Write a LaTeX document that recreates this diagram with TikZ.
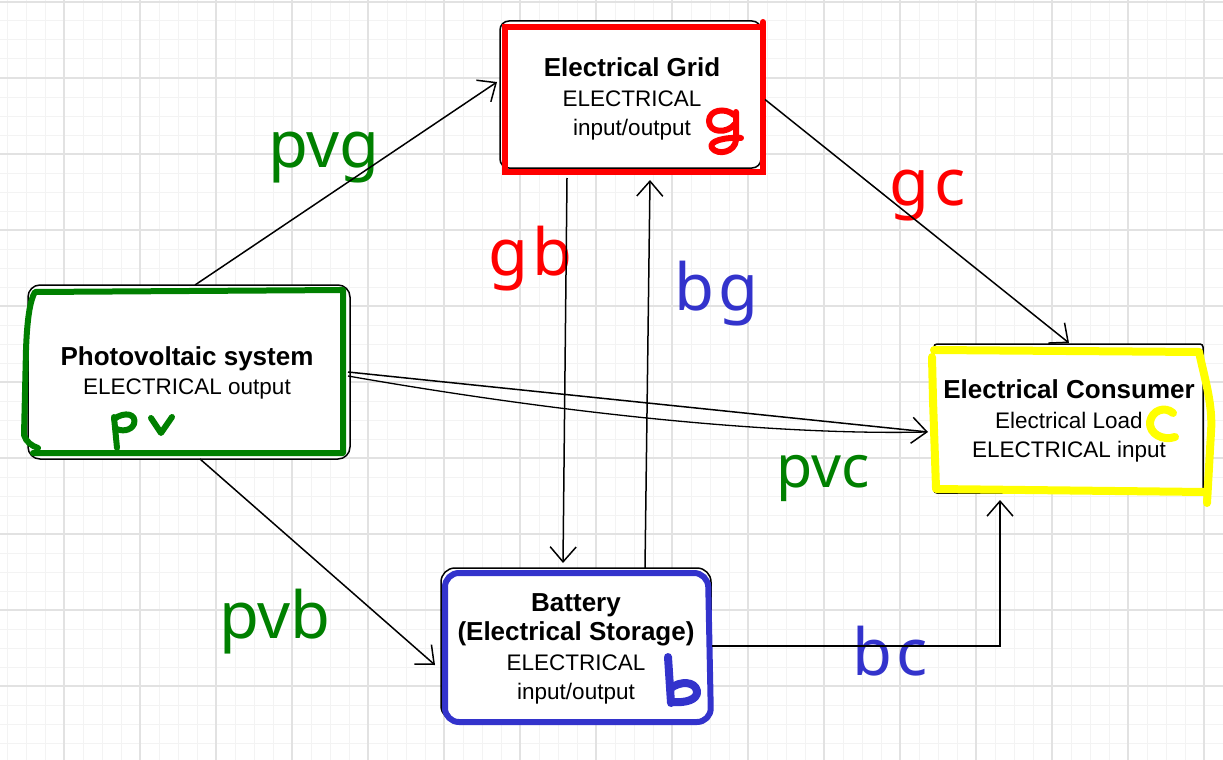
\documentclass[tikz,border=0pt]{standalone}
\usepackage{fontspec}
\setmainfont{Liberation Sans}
\newfontfamily\labelfont{Noto Sans}
\usetikzlibrary{arrows.meta}
\definecolor{gridmajor}{HTML}{E2E2E2}
\definecolor{gridminor}{HTML}{F3F3F3}
\definecolor{pvgreen}{HTML}{008000}
\definecolor{gred}{HTML}{FF0000}
\definecolor{bblue}{HTML}{3333CC}
\definecolor{cyellow}{HTML}{FFFF00}
\begin{document}
\begin{tikzpicture}[x=1pt,y=-1pt,
  minorline/.style={draw=gridminor,line width=1pt},
  majorline/.style={draw=gridmajor,line width=1.3pt},
  anchorbox/.style={inner sep=0pt,outer sep=0pt},
  boxtext/.style={inner sep=0pt,align=center,font=\fontsize{22.5}{29.5}\selectfont},
  sketchborder/.style={draw=black,fill=white,line width=1.5pt},
  marker/.style={line width=6pt,line cap=round,line join=round},
  fatmarker/.style={line width=8pt,line cap=round,line join=round},
  conn/.style={draw=black,line width=1.5pt,-{Straight Barb[length=15pt,width=26pt,line width=1.5pt]}},
  plainconn/.style={draw=black,line width=1.3pt},
  lbl/.style={anchor=base west,inner sep=0pt,font=\labelfont\fontsize{65}{65}\selectfont}
]
\useasboundingbox (0,0) rectangle (1223,760);
\fill[white] (0,0) rectangle (1223,760);
% grid
\foreach \i in {0,...,64} \draw[minorline] ({7+19*\i},0) -- ({7+19*\i},760);
\foreach \j in {0,...,40} \draw[minorline] (0,{2+19*\j}) -- (1223,{2+19*\j});
\foreach \i in {0,...,16} \draw[majorline] ({-12+76*\i},0) -- ({-12+76*\i},760);
\foreach \j in {0,...,10} \draw[majorline] (0,{2+76*\j}) -- (1223,{2+76*\j});

% sketch borders (white boxes)
\draw[sketchborder,rounded corners=9pt] (500,21) rectangle (761,168);
\draw[sketchborder,rounded corners=12pt] (28,285) rectangle (350,459);
\draw[sketchborder,rounded corners=3pt] (934,344) rectangle (1203,493);
\draw[sketchborder,rounded corners=14pt] (441,568) rectangle (711,720);

% anchor nodes
\node[anchorbox,minimum width=258pt,minimum height=145pt] (grid) at (634,99.5) {};
\node[anchorbox,minimum width=318pt,minimum height=166pt] (pv) at (187,373) {};
\node[anchorbox,minimum width=272pt,minimum height=150pt] (cons) at (1069,421) {};
\node[anchorbox,minimum width=266pt,minimum height=152pt] (bat) at (577,647) {};

% coloured markers
\draw[marker,gred,line join=miter,line cap=butt] (505,27) -- (763,27) -- (763,172) -- (505,172) -- cycle;
\draw[marker,gred] (763,22) -- (763,30);
\draw[marker,pvgreen] (33,453) -- (343,453) -- (343,290) -- (35,292)
  .. controls (30,300) and (27,320) .. (26,350) -- (24,435)
  .. controls (26,442) and (32,446) .. (38,448);
\draw[fatmarker,cyellow] (934,350) -- (1199,352);
\draw[fatmarker,cyellow] (1199,352) .. controls (1205,380) and (1213,405) .. (1211,432) -- (1207,503);
\draw[fatmarker,cyellow] (936,489) -- (1205,492);
\draw[fatmarker,cyellow] (932,357) -- (933,400) -- (936,488);
\draw[marker,bblue,rounded corners=14pt] (445,573) -- (708,573) -- (711,722) -- (445,722) -- cycle;

% box texts
\node[boxtext] (gridtext) at (632,99) {{\bfseries\fontsize{26}{29.5}\selectfont Electrical Grid}\\ELECTRICAL\\input/output};
\node[boxtext] (pvtext) at (187,373) {{\bfseries\fontsize{26}{29.5}\selectfont Photovoltaic system}\\ELECTRICAL output};
\node[boxtext] (constext) at (1069,421) {{\bfseries\fontsize{26}{29.5}\selectfont Electrical Consumer}\\Electrical Load\\ELECTRICAL input};
\node[boxtext] (battext) at (576,649) {{\bfseries\fontsize{26}{30.5}\selectfont Battery}\\{\bfseries\fontsize{26}{30.5}\selectfont (Electrical Storage)}\\ELECTRICAL\\input/output};

% handwritten letters
\draw[marker,gred] (734,115) .. controls (725,107) and (709,110) .. (709,121) .. controls (709,133) and (727,134) .. (735,124);
\draw[marker,gred] (736,112) -- (736,140) .. controls (735,152) and (718,156) .. (712,148) .. controls (708,141) and (725,137) .. (741,138);
\draw[marker,pvgreen] (114,417) -- (117,448);
\draw[marker,pvgreen] (114,419) .. controls (125,411) and (137,414) .. (134,424) .. controls (131,431) and (121,432) .. (115,428);
\draw[marker,pvgreen] (151,418) -- (161,433) -- (172,417);
\draw[fatmarker,cyellow] (1173,413) .. controls (1165,406) and (1152,410) .. (1150,422) .. controls (1149,434) and (1163,441) .. (1175,437);
\draw[fatmarker,bblue] (668,657) -- (671,703);
\draw[fatmarker,bblue] (671,688) .. controls (680,681) and (695,681) .. (697,691) .. controls (698,700) and (685,703) .. (673,702);

% connector labels
\node[lbl,text=pvgreen] (lpvg) at (268,167) {pvg};
\node[lbl,text=gred] (lgc) at (889,205) {g\kern5pt c};
\node[lbl,text=gred] (lgb) at (488,275) {g\kern4pt b};
\node[lbl,text=bblue] (lbg) at (674,310) {b\kern4pt g};
\node[lbl,text=pvgreen,font=\labelfont\fontsize{59}{59}\selectfont] (lpvc) at (776,487) {pvc};
\node[lbl,text=pvgreen] (lpvb) at (219,638) {pvb};
\node[lbl,text=bblue] (lbc) at (852,675) {b\kern4pt c};

% connectors
\draw[conn] ([xshift=8pt,yshift=5pt]pv.north) -- ([xshift=-8pt,yshift=17.5pt]grid.west);
\draw[conn] ([xshift=2pt]grid.east) -- ([yshift=3pt]cons.north);
\draw[conn] ([xshift=-67pt,yshift=-6pt]grid.south) -- ([xshift=-14pt,yshift=8pt]bat.north);
\draw[conn] ([xshift=68pt,yshift=3pt]bat.north) -- ([xshift=16pt,yshift=-8pt]grid.south);
\draw[conn] ([xshift=2pt,yshift=1pt]pv.east) -- ([xshift=-5pt,yshift=-11pt]cons.west);
\draw[plainconn] ([xshift=2pt,yshift=-3pt]pv.east) .. controls (600,420) and (800,435) .. ([xshift=-7pt,yshift=-11pt]cons.west);
\draw[conn] ([xshift=13pt,yshift=-3pt]pv.south) -- ([xshift=-9pt,yshift=-18pt]bat.west);
\draw[conn] ([xshift=2pt,yshift=1pt]bat.east) -| ([xshift=-69pt,yshift=-4pt]cons.south);
\end{tikzpicture}
\end{document}
